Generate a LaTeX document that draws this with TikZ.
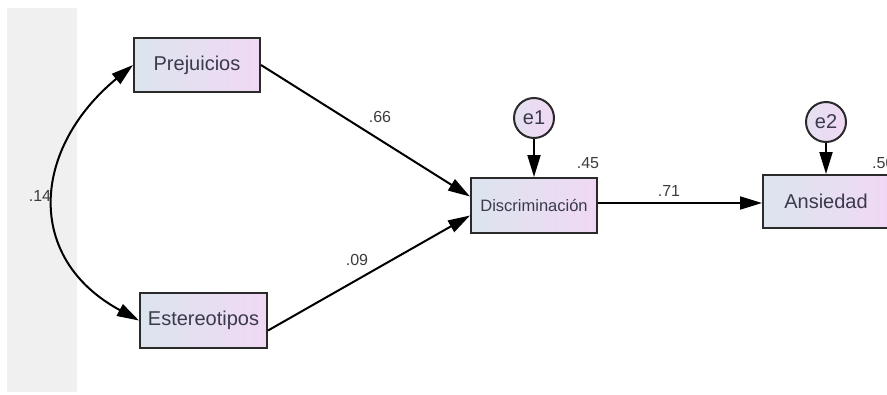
\documentclass[tikz,border=0pt]{standalone}
\usepackage{fontspec}
\setmainfont{Liberation Sans}
\usetikzlibrary{arrows.meta}
\definecolor{strip}{HTML}{F0F0F0}
\definecolor{boxL}{HTML}{DCE5EE}
\definecolor{boxR}{HTML}{F0D8F4}
\definecolor{txt}{HTML}{3A3A4C}
\definecolor{lbl}{HTML}{3C3C3C}
\definecolor{edge}{HTML}{2A2A2A}
\tikzset{
  obs/.style={draw=edge, line width=2pt, rectangle, inner sep=0pt,
    minimum width=126pt, minimum height=54pt, left color=boxL, right color=boxR,
    text=txt, font=\fontsize{20}{22}\selectfont},
  err/.style={draw=edge, line width=2pt, circle, inner sep=0pt,
    minimum size=40pt, left color=boxL!60!boxR, right color=boxR,
    text=txt, font=\fontsize{20}{22}\selectfont},
  coef/.style={text=lbl, font=\fontsize{16}{18}\selectfont, inner sep=0pt},
  path/.style={draw=black, line width=2pt, -{Triangle[length=22pt,width=13pt]}},
  cov/.style={draw=black, line width=2pt, {Triangle[length=22pt,width=13pt]}-{Triangle[length=22pt,width=13pt]}}
}
\begin{document}
\begin{tikzpicture}[x=1pt,y=-1pt]
\useasboundingbox (0,0) rectangle (887,394);
\fill[strip] (7,8) rectangle (77,392);

\node[obs] (P) at (197,65) {Prejuicios};
\node[obs, minimum width=127pt, minimum height=55pt] (E) at (203.5,320.5) {Estereotipos};
\node[obs, minimum height=55pt, font=\fontsize{16.5}{18}\selectfont] (D) at (534,205.5) {Discriminación};
\node[obs, minimum height=53pt] (A) at (826,201.5) {Ansiedad};
\node[err] (e1) at (534,118) {e1};
\node[err] (e2) at (826,122) {e2};

\draw[path] (P.east) -- ([yshift=9pt]D.west);
\draw[path] ([yshift=-10pt]E.east) -- ([yshift=-10pt]D.west);
\draw[path] ([yshift=2.5pt]D.east) -- ([yshift=-1.5pt]A.west);
\draw[path] (e1) -- (D);
\draw[path] (e2) -- (A);
\draw[cov] (P.west) .. controls (32.4,148.2) and (23.8,258) .. (E.west);

\node[coef] (c66) at (380,117) {.66};
\node[coef] (c09) at (357,260) {.09};
\node[coef] (c71) at (669,191) {.71};
\node[coef] (c45) at (588,163) {.45};
\node[coef, anchor=west] (c50) at (872,163) {.50};
\node[coef] (c14) at (40,196) {.14};
\end{tikzpicture}
\end{document}
